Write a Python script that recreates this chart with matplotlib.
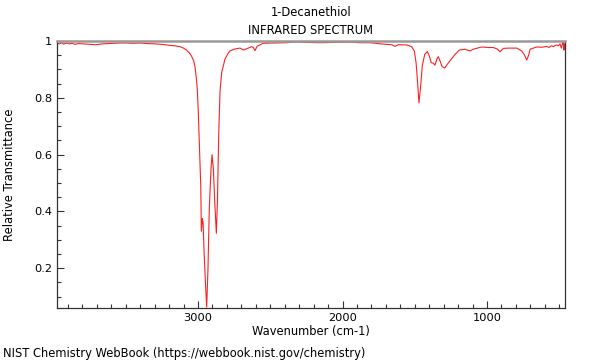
import matplotlib
matplotlib.use("Agg")
import matplotlib.pyplot as plt
from matplotlib.ticker import MultipleLocator, FuncFormatter

title_main = "1-Decanethiol"
title_sub = "INFRARED SPECTRUM"
x_label = "Wavenumber (cm-1)"
y_label = "Relative Transmittance"
footer = "NIST Chemistry WebBook (https://webbook.nist.gov/chemistry)"

wavenumber = [3976, 3960, 3945, 3930, 3910, 3890, 3870, 3850, 3830, 3800, 3770, 3740,
              3710, 3690, 3660, 3620, 3580, 3540, 3500, 3450, 3400, 3350, 3300, 3250,
              3200, 3160, 3125, 3100, 3080, 3060, 3045, 3030, 3021, 3012, 3005, 2998,
              2993, 2987, 2981, 2977, 2970, 2965, 2958, 2947, 2940, 2931, 2922, 2910,
              2903, 2894, 2882, 2873, 2866, 2857, 2848, 2836, 2813, 2790, 2779, 2744,
              2709, 2686, 2652, 2628, 2617, 2606, 2590, 2548, 2450, 2386, 2317, 2250,
              2156, 2050, 1948, 1880, 1810, 1718, 1660, 1637, 1614, 1556, 1521, 1503,
              1491, 1482, 1471, 1459, 1448, 1431, 1413, 1399, 1386, 1372, 1360, 1346,
              1337, 1325, 1311, 1293, 1275, 1256, 1221, 1192, 1152, 1118, 1095, 1037,
              990, 956, 930, 910, 887, 850, 794, 760, 740, 725, 712, 702, 656, 620,
              587, 570, 560, 552, 540, 530, 518, 505, 495, 485, 478, 472, 468, 464, 460]
transmittance = [0.993, 0.990, 0.994, 0.989, 0.993, 0.990, 0.992, 0.988, 0.991, 0.990, 0.989, 0.988,
                 0.987, 0.988, 0.990, 0.991, 0.992, 0.993, 0.993, 0.992, 0.993, 0.991, 0.990, 0.988,
                 0.985, 0.983, 0.980, 0.975, 0.968, 0.958, 0.947, 0.930, 0.910, 0.870, 0.830, 0.750,
                 0.667, 0.580, 0.490, 0.330, 0.375, 0.360, 0.256, 0.130, 0.063, 0.200, 0.410, 0.550,
                 0.600, 0.550, 0.410, 0.323, 0.430, 0.667, 0.820, 0.890, 0.937, 0.958, 0.965, 0.972,
                 0.975, 0.968, 0.975, 0.980, 0.977, 0.966, 0.982, 0.992, 0.993, 0.994, 0.997, 0.995,
                 0.994, 0.995, 0.996, 0.994, 0.994, 0.989, 0.987, 0.981, 0.987, 0.986, 0.980, 0.965,
                 0.924, 0.866, 0.782, 0.842, 0.912, 0.953, 0.963, 0.947, 0.924, 0.922, 0.915, 0.938,
                 0.945, 0.930, 0.910, 0.905, 0.918, 0.930, 0.953, 0.968, 0.971, 0.965, 0.971, 0.979,
                 0.977, 0.977, 0.972, 0.962, 0.974, 0.975, 0.975, 0.965, 0.950, 0.933, 0.950, 0.971, 0.979, 0.978,
                 0.981, 0.977, 0.982, 0.983, 0.980, 0.984, 0.986, 0.983, 0.990, 0.975, 0.992, 0.995, 0.968, 0.990, 0.970]

x_major = [3000, 2000, 1000]

fig = plt.figure(figsize=(6, 3.6), dpi=100)
ax = fig.add_axes([0.095, 0.1444, 0.8467, 0.7417])
ax.plot(wavenumber, transmittance, color="#ff2020", lw=0.8)
ax.set_xlim(3976, 460)
ax.set_ylim(0.06, 1.0)

ax.set_xticks(x_major)
ax.xaxis.set_minor_locator(MultipleLocator(100))
ax.yaxis.set_major_locator(MultipleLocator(0.2))
ax.yaxis.set_minor_locator(MultipleLocator(0.05))
ax.yaxis.set_major_formatter(FuncFormatter(lambda v, p: "%g" % round(v, 2)))
ax.tick_params(which="both", direction="in", labelsize=8.2, top=False, right=False, colors="#333333")
ax.tick_params(which="major", length=5, width=0.8)
ax.tick_params(which="minor", length=3, width=0.8)
for lab in ax.get_xticklabels() + ax.get_yticklabels():
    lab.set_color("black")

ax.spines["top"].set_color("#999999")
ax.spines["top"].set_linewidth(1.8)
for s in ["left", "bottom", "right"]:
    ax.spines[s].set_color("#333333")
    ax.spines[s].set_linewidth(0.9)

fs = 8.3
fig.text(311 / 600, 1 - 12 / 360, title_main, ha="center", va="center", fontsize=fs)
fig.text(311 / 600, 1 - 30 / 360, title_sub, ha="center", va="center", fontsize=fs)
fig.text(311 / 600, 1 - 332 / 360, x_label, ha="center", va="center", fontsize=fs)
fig.text(10 / 600, 1 - 175 / 360, y_label, ha="center", va="center", rotation=90, fontsize=fs)
fig.text(3 / 600, 1 - 353 / 360, footer, ha="left", va="center", fontsize=fs)

fig.savefig("out.png", dpi=100)
